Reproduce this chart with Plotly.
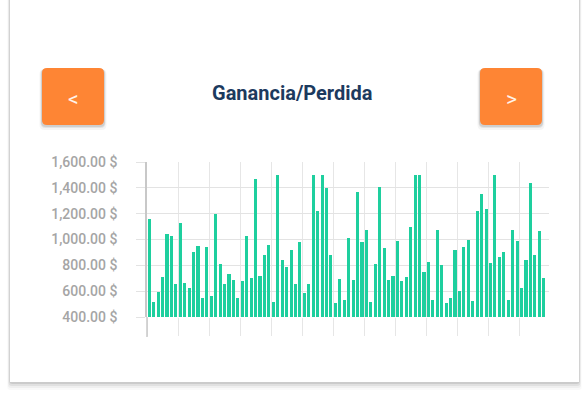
import plotly.graph_objects as go

# ---------------- data ----------------
values = [
    1160, 520, 590, 710, 1040, 1030, 655, 1130, 660, 625,
    905, 950, 550, 945, 560, 1200, 810, 655, 730, 685,
    545, 675, 1030, 705, 1465, 715, 880, 960, 520, 1500,
    840, 790, 915, 655, 980, 585, 655, 1500, 1220, 1500,
    1395, 880, 505, 695, 535, 1010, 690, 1365, 980, 1070,
    515, 810, 1410, 935, 685, 720, 990, 675, 710, 1095,
    1500, 1500, 745, 825, 530, 1075, 805, 510, 550, 920,
    600, 945, 1000, 525, 1220, 1355, 1235, 820, 1500, 865,
    905, 535, 1070, 990, 625, 845, 1440, 880, 1065, 705,
]
categories = list(range(len(values)))
y_tick_values = [400, 600, 800, 1000, 1200, 1400, 1600]
y_tick_labels = ["400.00 $", "600.00 $", "800.00 $", "1,000.00 $",
                 "1,200.00 $", "1,400.00 $", "1,600.00 $"]
title_text = "Ganancia/Perdida"
prev_label = "<"
next_label = ">"

# ---------------- layout geometry ----------------
W, H = 585, 394
L, R, T, B = 147, 36, 162, 77
PW, PH = W - L - R, H - T - B


def fx(x):
    return (x - L) / PW


def fy(y):
    return (H - B - y) / PH


def rrect(x0, y0, x1, y1, r):
    pts = [
        ("M", [(x0 + r, y0)]), ("L", [(x1 - r, y0)]),
        ("Q", [(x1, y0), (x1, y0 + r)]), ("L", [(x1, y1 - r)]),
        ("Q", [(x1, y1), (x1 - r, y1)]), ("L", [(x0 + r, y1)]),
        ("Q", [(x0, y1), (x0, y1 - r)]), ("L", [(x0, y0 + r)]),
        ("Q", [(x0, y0), (x0 + r, y0)]),
    ]
    s = ""
    for cmd, ps in pts:
        s += cmd + " ".join(f"{fx(a):.5f},{fy(b):.5f}" for a, b in ps) + " "
    return s + "Z"


shapes = []
# card shadow
for k, a in [(8, 0.025), (6, 0.04), (4, 0.06), (2, 0.09)]:
    shapes.append(dict(type="path", xref="paper", yref="paper", layer="below",
                       path=rrect(10 - k / 3, -20, 579 + k / 3, 382 + k, 3),
                       fillcolor=f"rgba(0,0,0,{a})", line=dict(width=0)))
shapes.append(dict(type="rect", xref="paper", yref="paper", layer="below",
                   x0=fx(10), x1=fx(579), y0=fy(-20), y1=fy(382),
                   fillcolor="white", line=dict(width=0)))

# buttons
for bx0, bx1 in [(42, 104), (480, 542)]:
    for k, a in [(5, 0.04), (3, 0.07), (2, 0.09)]:
        shapes.append(dict(type="path", xref="paper", yref="paper", layer="below",
                           path=rrect(bx0 - k / 2, 69, bx1 + k / 2, 125 + k, 5),
                           fillcolor=f"rgba(0,0,0,{a})", line=dict(width=0)))
    shapes.append(dict(type="path", xref="paper", yref="paper", layer="below",
                       path=rrect(bx0, 68, bx1, 125, 5),
                       fillcolor="#FE8534", line=dict(width=0)))

# axis extension below the plot
shapes.append(dict(type="line", xref="paper", yref="paper", layer="above",
                   x0=fx(147), x1=fx(147), y0=fy(317), y1=fy(337),
                   line=dict(color="#c8c8c8", width=1.5)))

annotations = [
    dict(text=title_text, xref="paper", yref="paper", x=fx(292), y=fy(93),
         xanchor="center", yanchor="middle", showarrow=False,
         font=dict(family="Roboto", size=20, color="#1c3a5e", weight="bold")),
    dict(text=prev_label, xref="paper", yref="paper", x=fx(73), y=fy(99),
         xanchor="center", yanchor="middle", showarrow=False,
         font=dict(family="Roboto", size=21, color="#fff3ea")),
    dict(text=next_label, xref="paper", yref="paper", x=fx(511), y=fy(99),
         xanchor="center", yanchor="middle", showarrow=False,
         font=dict(family="Roboto", size=21, color="#fff3ea")),
]

fig = go.Figure(go.Bar(x=categories, y=values, width=0.7,
                       marker=dict(color="#1ecf9e", line=dict(width=0))))

x_grid = [-0.5 + 7 * k for k in range(14)]

fig.update_layout(
    width=W, height=H,
    margin=dict(l=L, r=R, t=T, b=B, pad=0),
    paper_bgcolor="white", plot_bgcolor="rgba(0,0,0,0)",
    showlegend=False, bargap=0,
    shapes=shapes, annotations=annotations,
    xaxis=dict(range=[-0.5, 90.2], tickmode="array", tickvals=x_grid,
               showticklabels=False, showgrid=True, gridcolor="#e6e6e6",
               gridwidth=1, ticks="outside", ticklen=18, tickcolor="#e6e6e6",
               showline=False, zeroline=False, fixedrange=True),
    yaxis=dict(range=[400, 1600], tickmode="array", tickvals=y_tick_values,
               ticktext=y_tick_labels, showgrid=True, gridcolor="#e3e3e3",
               gridwidth=1, ticks="outside", ticklen=9, tickcolor="#e3e3e3",
               ticklabelstandoff=16, showline=True, linecolor="#c8c8c8",
               linewidth=1.5, zeroline=False,
               tickfont=dict(family="Roboto", size=14, color="#a5a5a5",
                             weight=500)),
)

fig.write_html("out.html")
